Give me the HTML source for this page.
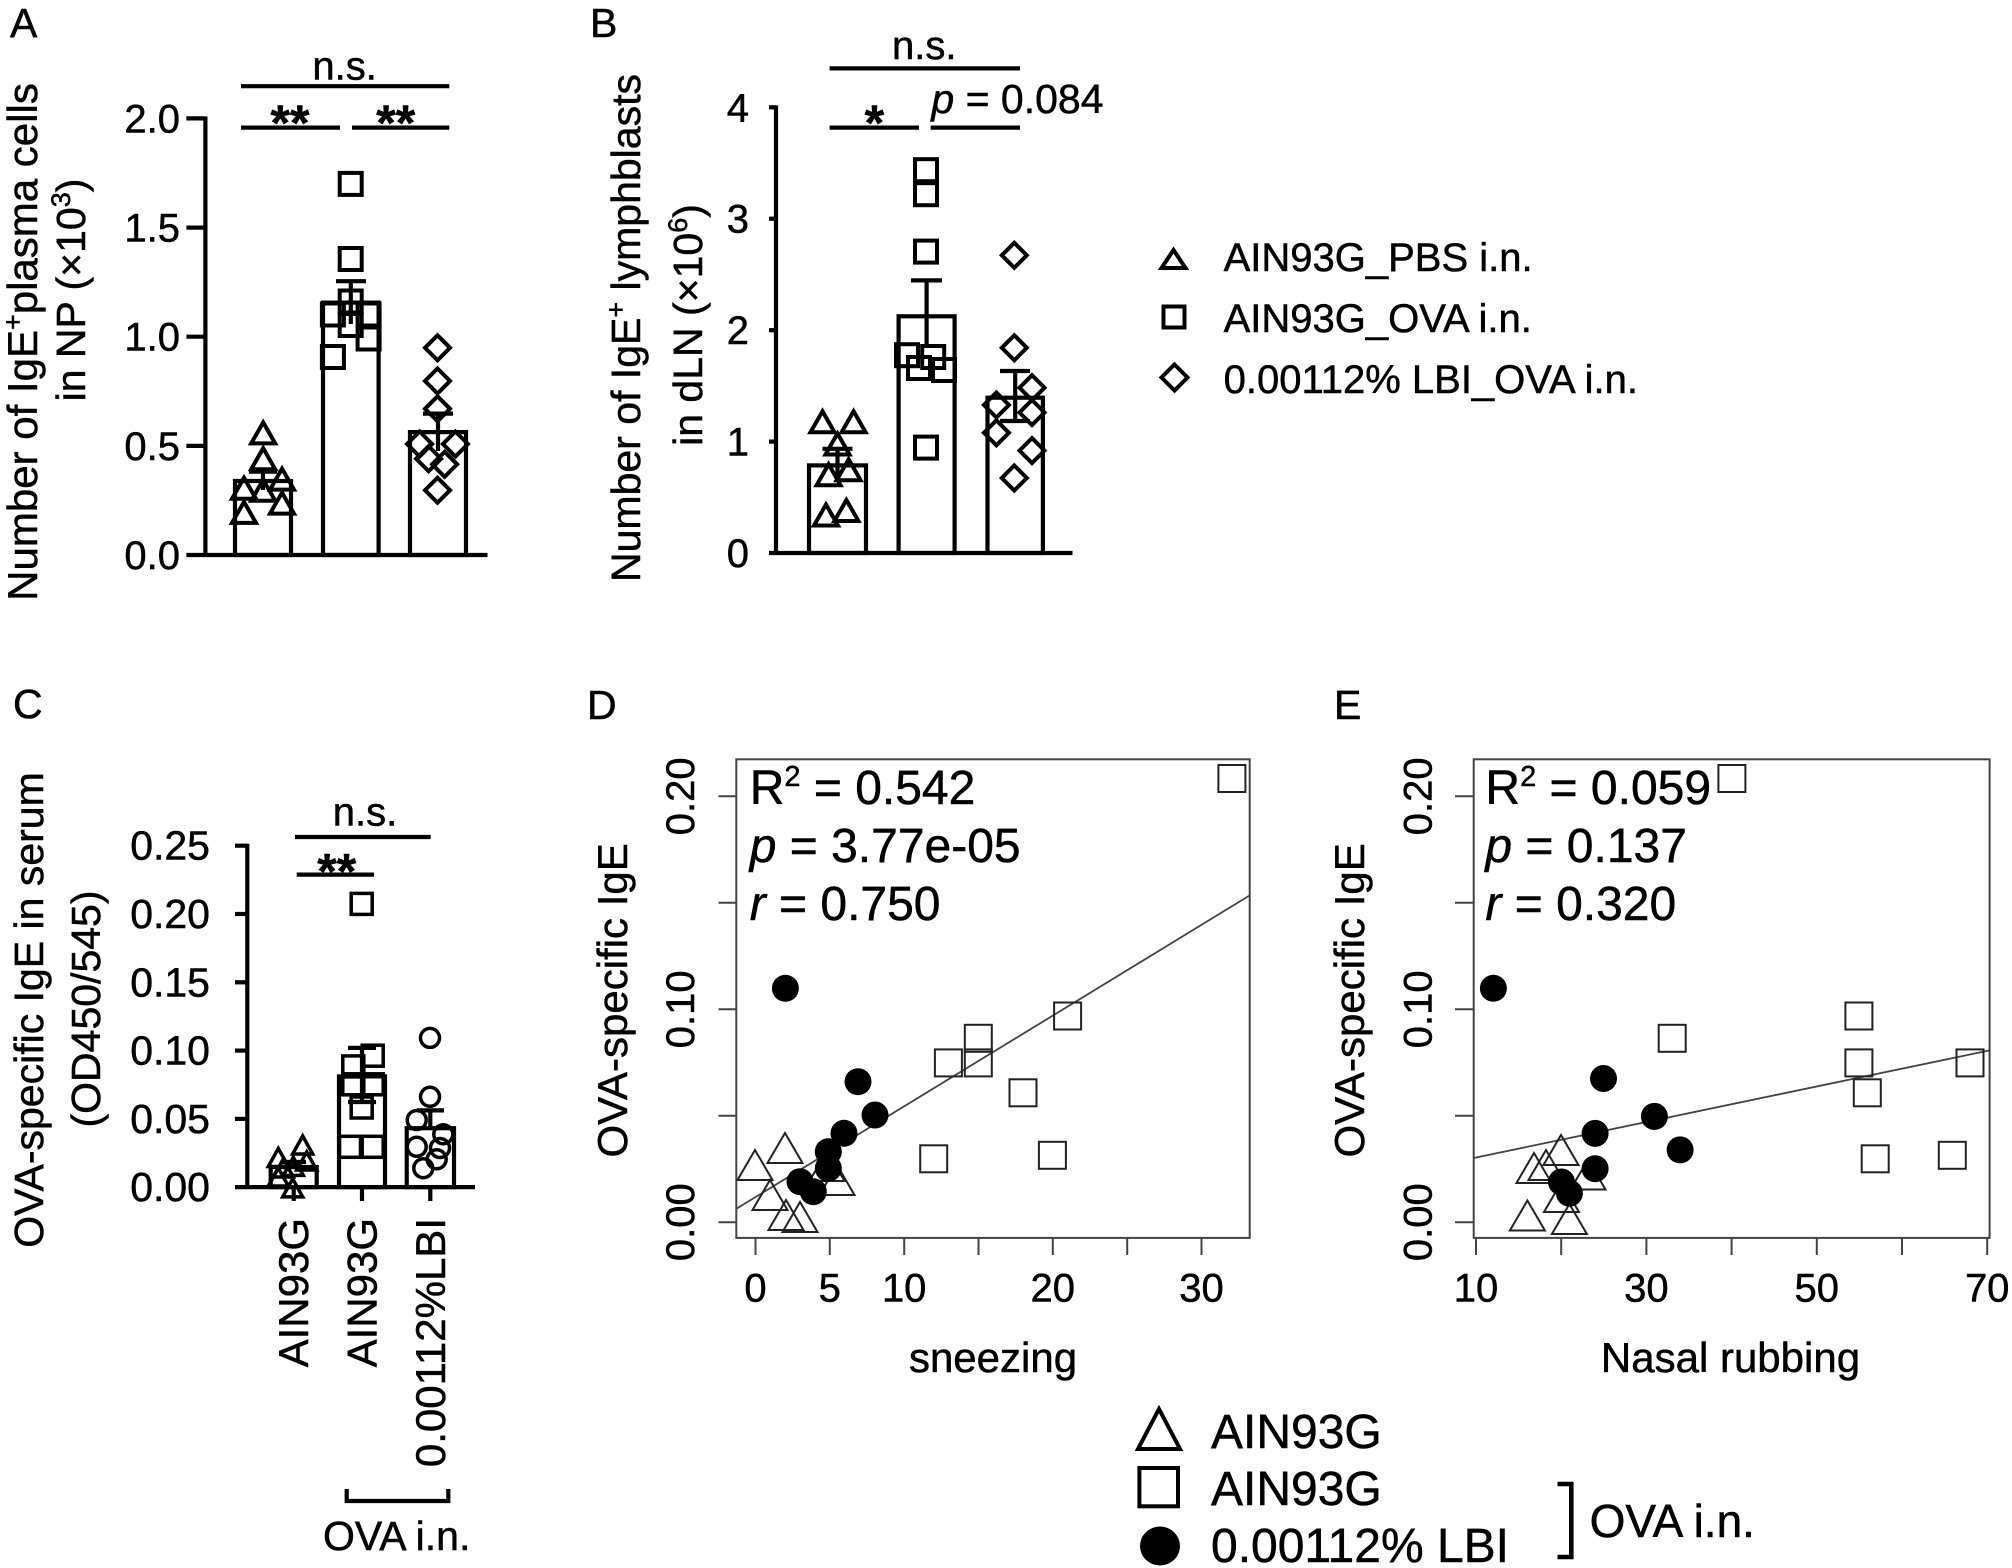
<!DOCTYPE html>
<html><head><meta charset="utf-8"><style>
html,body{margin:0;padding:0;background:#fff;}
body{width:2012px;height:1568px;overflow:hidden;}
svg{display:block;}
text{font-family:"Liberation Sans",Arial,sans-serif;fill:#000;stroke:#000;stroke-width:0.5;}
</style></head><body>
<svg width="2012" height="1568" viewBox="0 0 2012 1568" xmlns="http://www.w3.org/2000/svg">
<defs>
<polygon id="triA" points="0,-10.5 12,10.5 -12,10.5"/>
<rect id="sqA" x="-11" y="-11" width="22" height="22"/>
<polygon id="diA" points="0,-12.5 12.5,0 0,12.5 -12.5,0"/>
<polygon id="triC" points="0,-9 10,9 -10,9"/>
<rect id="sqC" x="-10.5" y="-10.5" width="21" height="21"/>
<circle id="ciC" cx="0" cy="0" r="9.5"/>
<polygon id="triD" points="0,-15 17.5,15 -17.5,15"/>
<rect id="sqD" x="-13.5" y="-13.5" width="27" height="27"/>
<circle id="ciD" cx="0" cy="0" r="13.5"/>
</defs>

<!-- ================= Panel A ================= -->
<text x="10" y="37" font-size="41">A</text>
<g stroke="#000" stroke-width="4.2" fill="none">
<line x1="205.4" y1="116.5" x2="205.4" y2="557"/>
<line x1="186.4" y1="555" x2="487.5" y2="555"/>
<line x1="186.4" y1="118.4" x2="205.4" y2="118.4"/>
<line x1="186.4" y1="227.6" x2="205.4" y2="227.6"/>
<line x1="186.4" y1="336.7" x2="205.4" y2="336.7"/>
<line x1="186.4" y1="445.9" x2="205.4" y2="445.9"/>
<rect x="235" y="481" width="56" height="74"/>
<rect x="323" y="302.6" width="55.6" height="252.4"/>
<rect x="410" y="432.1" width="56" height="122.9"/>
<line x1="263" y1="490" x2="263" y2="471.7"/><line x1="249" y1="471.7" x2="277" y2="471.7"/>
<line x1="350.8" y1="324" x2="350.8" y2="281.2"/><line x1="336" y1="281.2" x2="366" y2="281.2"/>
<line x1="438" y1="451" x2="438" y2="413.6"/><line x1="423" y1="413.6" x2="453" y2="413.6"/>
<line x1="241" y1="86.2" x2="449.3" y2="86.2"/>
<line x1="241" y1="127.6" x2="340" y2="127.6"/>
<line x1="352" y1="127.6" x2="449.3" y2="127.6"/>
</g>
<g font-size="40" text-anchor="end">
<text x="180" y="132.4">2.0</text>
<text x="180" y="241.6">1.5</text>
<text x="180" y="350.7">1.0</text>
<text x="180" y="459.9">0.5</text>
<text x="180" y="569">0.0</text>
</g>
<text x="344.6" y="79.5" font-size="40" text-anchor="middle">n.s.</text>
<text x="290" y="140" font-size="50" font-weight="bold" text-anchor="middle">**</text>
<text x="395.7" y="140" font-size="50" font-weight="bold" text-anchor="middle">**</text>
<g stroke="#000" stroke-width="4" fill="none">
<use href="#triA" x="263.2" y="432.9"/><use href="#triA" x="263.2" y="458.7"/>
<use href="#triA" x="244" y="488.3"/><use href="#triA" x="282" y="479.1"/>
<use href="#triA" x="263.2" y="490.2"/><use href="#triA" x="244" y="512.4"/>
<use href="#triA" x="282" y="503.1"/>
<use href="#sqA" x="350.7" y="183.9"/><use href="#sqA" x="350.7" y="259"/>
<use href="#sqA" x="350.7" y="301.5"/><use href="#sqA" x="332.9" y="314.5"/>
<use href="#sqA" x="368.6" y="314.5"/><use href="#sqA" x="350.7" y="325"/>
<use href="#sqA" x="368.6" y="338.5"/><use href="#sqA" x="332.9" y="357"/>
<use href="#diA" x="437.5" y="347.8"/><use href="#diA" x="437.5" y="381"/>
<use href="#diA" x="437.5" y="408.8"/><use href="#diA" x="419.6" y="444"/>
<use href="#diA" x="455.4" y="444"/><use href="#diA" x="428.6" y="458.7"/>
<use href="#diA" x="444.6" y="464.3"/><use href="#diA" x="437.5" y="490.2"/>
</g>
<text transform="translate(37,342) rotate(-90)" font-size="42" text-anchor="middle">Number of IgE<tspan dy="-15" font-size="27">+</tspan><tspan dy="15">plasma cells</tspan></text>
<text transform="translate(85,290) rotate(-90)" font-size="41" text-anchor="middle">in NP (×10<tspan dy="-15" font-size="27">3</tspan><tspan dy="15">)</tspan></text>

<!-- ================= Panel B ================= -->
<text x="590" y="37" font-size="41">B</text>
<g stroke="#000" stroke-width="4.2" fill="none">
<line x1="776" y1="105.4" x2="776" y2="555"/>
<line x1="769" y1="553" x2="1072.5" y2="553"/>
<line x1="769" y1="107.3" x2="776" y2="107.3"/>
<line x1="769" y1="218.7" x2="776" y2="218.7"/>
<line x1="769" y1="330.2" x2="776" y2="330.2"/>
<line x1="769" y1="441.6" x2="776" y2="441.6"/>
<rect x="809" y="465.4" width="57" height="87.6"/>
<rect x="898.6" y="316.3" width="56" height="236.7"/>
<rect x="987.5" y="397.7" width="55.4" height="155.3"/>
<line x1="837.5" y1="480" x2="837.5" y2="448.8"/><line x1="822.5" y1="448.8" x2="852.5" y2="448.8"/>
<line x1="926.6" y1="348" x2="926.6" y2="280.4"/><line x1="911" y1="280.4" x2="942" y2="280.4"/>
<line x1="1015.2" y1="421" x2="1015.2" y2="371"/><line x1="1000" y1="371" x2="1030" y2="371"/>
<line x1="1000" y1="421" x2="1030" y2="421"/>
<line x1="829.6" y1="68.4" x2="1020" y2="68.4"/>
<line x1="829.6" y1="127.6" x2="919" y2="127.6"/>
<line x1="930.7" y1="127.6" x2="1020" y2="127.6"/>
</g>
<g font-size="40" text-anchor="end">
<text x="749" y="121.3">4</text>
<text x="749" y="232.7">3</text>
<text x="749" y="344.2">2</text>
<text x="749" y="455.6">1</text>
<text x="749" y="567">0</text>
</g>
<text x="924.3" y="59.2" font-size="40" text-anchor="middle">n.s.</text>
<text x="874.3" y="140" font-size="50" font-weight="bold" text-anchor="middle">*</text>
<text x="931.4" y="112.8" font-size="41"><tspan font-style="italic">p</tspan> = 0.084</text>
<g stroke="#000" stroke-width="4" fill="none">
<use href="#triA" x="822.5" y="421.8"/><use href="#triA" x="853.6" y="421.8"/>
<use href="#triA" x="837.5" y="444"/><use href="#triA" x="828.6" y="474.7"/>
<use href="#triA" x="848.6" y="469.8"/><use href="#triA" x="826" y="515"/>
<use href="#triA" x="846.4" y="510.5"/>
<use href="#sqA" x="926" y="170.2"/><use href="#sqA" x="926" y="194.2"/>
<use href="#sqA" x="926" y="251.6"/><use href="#sqA" x="907" y="355.2"/>
<use href="#sqA" x="933.2" y="357"/><use href="#sqA" x="919" y="368"/>
<use href="#sqA" x="944" y="370"/><use href="#sqA" x="926" y="447.6"/>
<use href="#diA" x="1014.3" y="255.3"/><use href="#diA" x="1014.3" y="347.8"/>
<use href="#diA" x="1032" y="387.7"/><use href="#diA" x="996.4" y="405"/>
<use href="#diA" x="1032" y="412.5"/><use href="#diA" x="996.4" y="432.8"/>
<use href="#diA" x="1032" y="450.6"/><use href="#diA" x="1014.3" y="478"/>
</g>
<text transform="translate(640,328) rotate(-90)" font-size="41" text-anchor="middle">Number of IgE<tspan dy="-15" font-size="27">+</tspan><tspan dy="15"> lymphblasts</tspan></text>
<text transform="translate(702,325) rotate(-90)" font-size="41" text-anchor="middle">in dLN (×10<tspan dy="-15" font-size="27">6</tspan><tspan dy="15">)</tspan></text>

<!-- ================= Legend (top right) ================= -->
<g stroke="#000" stroke-width="4" fill="none">
<polygon points="1173.5,250 1185.5,268 1161.5,268"/>
<rect x="1163.5" y="306.5" width="21" height="21"/>
<polygon points="1174.5,364.5 1187.5,377.5 1174.5,390.5 1161.5,377.5"/>
</g>
<g font-size="40">
<text x="1223.6" y="271">AIN93G_PBS i.n.</text>
<text x="1223.6" y="332">AIN93G_OVA i.n.</text>
<text x="1223.6" y="393">0.00112% LBI_OVA i.n.</text>
</g>

<!-- ================= Panel C ================= -->
<text x="13" y="718" font-size="41">C</text>
<g stroke="#000" stroke-width="4.2" fill="none">
<line x1="247.3" y1="843.8" x2="247.3" y2="1189"/>
<line x1="235" y1="1187.1" x2="475" y2="1187.1"/>
<line x1="235" y1="845.7" x2="247.3" y2="845.7"/>
<line x1="235" y1="914" x2="247.3" y2="914"/>
<line x1="235" y1="982.3" x2="247.3" y2="982.3"/>
<line x1="235" y1="1050.6" x2="247.3" y2="1050.6"/>
<line x1="235" y1="1118.9" x2="247.3" y2="1118.9"/>
<line x1="293.7" y1="1187" x2="293.7" y2="1201"/>
<line x1="362" y1="1187" x2="362" y2="1201"/>
<line x1="430.3" y1="1187" x2="430.3" y2="1201"/>
<rect x="270.7" y="1167.1" width="46" height="20"/>
<rect x="339" y="1076.4" width="46" height="110.7"/>
<rect x="406.7" y="1128.2" width="47.3" height="58.9"/>
<line x1="293.7" y1="1167" x2="293.7" y2="1162"/><line x1="281" y1="1162" x2="306" y2="1162"/>
<line x1="362" y1="1102" x2="362" y2="1047.9"/><line x1="348" y1="1047.9" x2="376" y2="1047.9"/>
<line x1="348" y1="1102" x2="376" y2="1102"/>
<line x1="430.3" y1="1128" x2="430.3" y2="1110.4"/><line x1="417" y1="1110.4" x2="444" y2="1110.4"/>
<line x1="295" y1="837" x2="430.7" y2="837"/>
<line x1="296.7" y1="874.6" x2="374" y2="874.6"/>
<path d="M346.7,1489 V1501 H448.3 V1489"/>
</g>
<g font-size="41" text-anchor="end">
<text x="210" y="859.7">0.25</text>
<text x="210" y="928">0.20</text>
<text x="210" y="996.3">0.15</text>
<text x="210" y="1064.6">0.10</text>
<text x="210" y="1132.9">0.05</text>
<text x="210" y="1201.1">0.00</text>
</g>
<text x="365" y="825.4" font-size="40" text-anchor="middle">n.s.</text>
<text x="336.7" y="888.5" font-size="50" font-weight="bold" text-anchor="middle">**</text>
<g stroke="#000" stroke-width="3.5" fill="none">
<use href="#triC" x="302.7" y="1145"/><use href="#triC" x="278.3" y="1157.5"/>
<use href="#triC" x="293.3" y="1166.4"/><use href="#triC" x="306.7" y="1161"/>
<use href="#triC" x="278.3" y="1177"/><use href="#triC" x="292.7" y="1187.9"/>
<use href="#triC" x="283.3" y="1168"/>
<use href="#sqC" x="361.7" y="903.9"/><use href="#sqC" x="372.7" y="1055.7"/>
<use href="#sqC" x="353.3" y="1066.4"/><use href="#sqC" x="372.7" y="1084.3"/>
<use href="#sqC" x="353.3" y="1084.3"/><use href="#sqC" x="361.7" y="1107.5"/>
<use href="#sqC" x="350" y="1146.8"/><use href="#sqC" x="372.7" y="1146.8"/>
<use href="#ciC" x="430" y="1037.9"/><use href="#ciC" x="430" y="1096.8"/>
<use href="#ciC" x="416.7" y="1120"/><use href="#ciC" x="443.3" y="1134.3"/>
<use href="#ciC" x="416.7" y="1146.8"/><use href="#ciC" x="436.7" y="1159.3"/>
<use href="#ciC" x="423.3" y="1168.2"/><use href="#ciC" x="440" y="1148"/>
</g>
<text transform="translate(43,1010) rotate(-90)" font-size="41" text-anchor="middle">OVA-specific IgE in serum</text>
<text transform="translate(100,1009) rotate(-90)" font-size="41" text-anchor="middle">(OD450/545)</text>
<g font-size="42" text-anchor="end">
<text transform="translate(308,1218) rotate(-90)">AIN93G</text>
<text transform="translate(376.7,1218) rotate(-90)">AIN93G</text>
<text transform="translate(445,1218) rotate(-90)">0.00112%LBI</text>
</g>
<text x="396.7" y="1550" font-size="41" text-anchor="middle">OVA i.n.</text>

<!-- ================= Panel D ================= -->
<text x="587" y="719" font-size="41">D</text>
<g stroke="#444" stroke-width="2" fill="none">
<rect x="736.3" y="759.3" width="513.4" height="478.6"/>
<line x1="718.5" y1="796.3" x2="736.3" y2="796.3"/>
<line x1="718.5" y1="902.8" x2="736.3" y2="902.8"/>
<line x1="718.5" y1="1009.3" x2="736.3" y2="1009.3"/>
<line x1="718.5" y1="1115.7" x2="736.3" y2="1115.7"/>
<line x1="718.5" y1="1222.2" x2="736.3" y2="1222.2"/>
<line x1="755.5" y1="1238" x2="755.5" y2="1255"/>
<line x1="829.8" y1="1238" x2="829.8" y2="1255"/>
<line x1="904.2" y1="1238" x2="904.2" y2="1255"/>
<line x1="978.5" y1="1238" x2="978.5" y2="1255"/>
<line x1="1052.8" y1="1238" x2="1052.8" y2="1255"/>
<line x1="1127.2" y1="1238" x2="1127.2" y2="1255"/>
<line x1="1201.5" y1="1238" x2="1201.5" y2="1255"/>
<line x1="736.3" y1="1208.8" x2="1249.7" y2="895.4" stroke-width="1.8"/>
</g>
<g font-size="40" text-anchor="middle">
<text transform="translate(694,796.3) rotate(-90)">0.20</text>
<text transform="translate(694,1009.3) rotate(-90)">0.10</text>
<text transform="translate(694,1222.2) rotate(-90)">0.00</text>
<text x="755.5" y="1301.7">0</text>
<text x="829.8" y="1301.7">5</text>
<text x="904.2" y="1301.7">10</text>
<text x="1052.8" y="1301.7">20</text>
<text x="1201.5" y="1301.7">30</text>
</g>
<text transform="translate(627,1000.4) rotate(-90)" font-size="42" text-anchor="middle">OVA-specific IgE</text>
<text x="993" y="1372" font-size="42" text-anchor="middle">sneezing</text>
<g font-size="48">
<text x="749.7" y="804">R<tspan dy="-18" font-size="29">2</tspan><tspan dy="18"> = 0.542</tspan></text>
<text x="749.7" y="862"><tspan font-style="italic">p</tspan> = 3.77e-05</text>
<text x="749.7" y="920"><tspan font-style="italic">r</tspan> = 0.750</text>
</g>
<g stroke="#222" stroke-width="2" fill="none">
<use href="#sqD" x="1231.9" y="778.5"/><use href="#sqD" x="1067.6" y="1016"/>
<use href="#sqD" x="978.3" y="1038.3"/><use href="#sqD" x="978.3" y="1062.9"/>
<use href="#sqD" x="948.4" y="1062.9"/><use href="#sqD" x="1023" y="1092.8"/>
<use href="#sqD" x="933.7" y="1158.8"/><use href="#sqD" x="1052.4" y="1155.3"/>
<use href="#triD" x="785" y="1148"/><use href="#triD" x="755" y="1165"/>
<use href="#triD" x="770" y="1195"/><use href="#triD" x="786" y="1215"/>
<use href="#triD" x="800" y="1217"/><use href="#triD" x="837" y="1180"/>
<use href="#triD" x="827" y="1166"/>
</g>
<g fill="#000">
<use href="#ciD" x="785.4" y="988.3"/><use href="#ciD" x="858" y="1081.7"/>
<use href="#ciD" x="875" y="1115"/><use href="#ciD" x="844" y="1133.3"/>
<use href="#ciD" x="828.3" y="1151.7"/><use href="#ciD" x="828.3" y="1168.3"/>
<use href="#ciD" x="800" y="1181.7"/><use href="#ciD" x="813.3" y="1191.7"/>
</g>

<!-- ================= Panel E ================= -->
<text x="1334" y="719" font-size="41">E</text>
<g stroke="#444" stroke-width="2" fill="none">
<rect x="1473.7" y="759.3" width="515.9" height="478.6"/>
<line x1="1455" y1="796.3" x2="1473.7" y2="796.3"/>
<line x1="1455" y1="902.8" x2="1473.7" y2="902.8"/>
<line x1="1455" y1="1009.3" x2="1473.7" y2="1009.3"/>
<line x1="1455" y1="1115.7" x2="1473.7" y2="1115.7"/>
<line x1="1455" y1="1222.2" x2="1473.7" y2="1222.2"/>
<line x1="1476" y1="1238" x2="1476" y2="1255"/>
<line x1="1561.2" y1="1238" x2="1561.2" y2="1255"/>
<line x1="1646.4" y1="1238" x2="1646.4" y2="1255"/>
<line x1="1731.6" y1="1238" x2="1731.6" y2="1255"/>
<line x1="1816.8" y1="1238" x2="1816.8" y2="1255"/>
<line x1="1902" y1="1238" x2="1902" y2="1255"/>
<line x1="1987.2" y1="1238" x2="1987.2" y2="1255"/>
<line x1="1473.7" y1="1158" x2="1989.6" y2="1050.4" stroke-width="1.8"/>
</g>
<g font-size="40" text-anchor="middle">
<text transform="translate(1431.7,796.3) rotate(-90)">0.20</text>
<text transform="translate(1431.7,1009.3) rotate(-90)">0.10</text>
<text transform="translate(1431.7,1222.2) rotate(-90)">0.00</text>
<text x="1476" y="1301.7">10</text>
<text x="1646.4" y="1301.7">30</text>
<text x="1816.8" y="1301.7">50</text>
<text x="1987.2" y="1301.7">70</text>
</g>
<text transform="translate(1364,1000.4) rotate(-90)" font-size="42" text-anchor="middle">OVA-specific IgE</text>
<text x="1730.5" y="1372" font-size="42" text-anchor="middle">Nasal rubbing</text>
<g font-size="48">
<text x="1485.4" y="804">R<tspan dy="-18" font-size="29">2</tspan><tspan dy="18"> = 0.059</tspan></text>
<text x="1485.4" y="862"><tspan font-style="italic">p</tspan> = 0.137</text>
<text x="1485.4" y="920"><tspan font-style="italic">r</tspan> = 0.320</text>
</g>
<g stroke="#222" stroke-width="2" fill="none">
<use href="#sqD" x="1731.9" y="778.5"/><use href="#sqD" x="1672.2" y="1038.3"/>
<use href="#sqD" x="1858.9" y="1016"/><use href="#sqD" x="1858.9" y="1062.9"/>
<use href="#sqD" x="1970" y="1062.9"/><use href="#sqD" x="1867.3" y="1092.8"/>
<use href="#sqD" x="1875.2" y="1158.8"/><use href="#sqD" x="1952.3" y="1155.3"/>
<use href="#triD" x="1561" y="1150"/><use href="#triD" x="1534" y="1168"/>
<use href="#triD" x="1546" y="1165"/><use href="#triD" x="1561.5" y="1197"/>
<use href="#triD" x="1527.4" y="1215.5"/><use href="#triD" x="1569.4" y="1219"/>
<use href="#triD" x="1588" y="1174.5"/>
</g>
<g fill="#000">
<use href="#ciD" x="1493.4" y="988.3"/><use href="#ciD" x="1603.5" y="1078.5"/>
<use href="#ciD" x="1654.4" y="1116.4"/><use href="#ciD" x="1595.1" y="1133.4"/>
<use href="#ciD" x="1680.1" y="1149.9"/><use href="#ciD" x="1595.1" y="1168.7"/>
<use href="#ciD" x="1561.5" y="1182"/><use href="#ciD" x="1569.4" y="1193.2"/>
</g>

<!-- ================= Bottom legend ================= -->
<g stroke="#000" stroke-width="4" fill="none">
<polygon points="1159,1409 1180,1449 1138,1449"/>
<rect x="1139.4" y="1468" width="38.6" height="38.3"/>
<path d="M1557.5,1484 H1571.3 V1557 H1557.5" stroke-width="4.6"/>
</g>
<ellipse cx="1160" cy="1546" rx="20" ry="19.5" fill="#000"/>
<g font-size="48">
<text x="1211" y="1448">AIN93G</text>
<text x="1211" y="1505">AIN93G</text>
<text x="1211" y="1562">0.00112% LBI</text>
</g>
<text x="1589.6" y="1537" font-size="46">OVA i.n.</text>
</svg>
</body></html>
